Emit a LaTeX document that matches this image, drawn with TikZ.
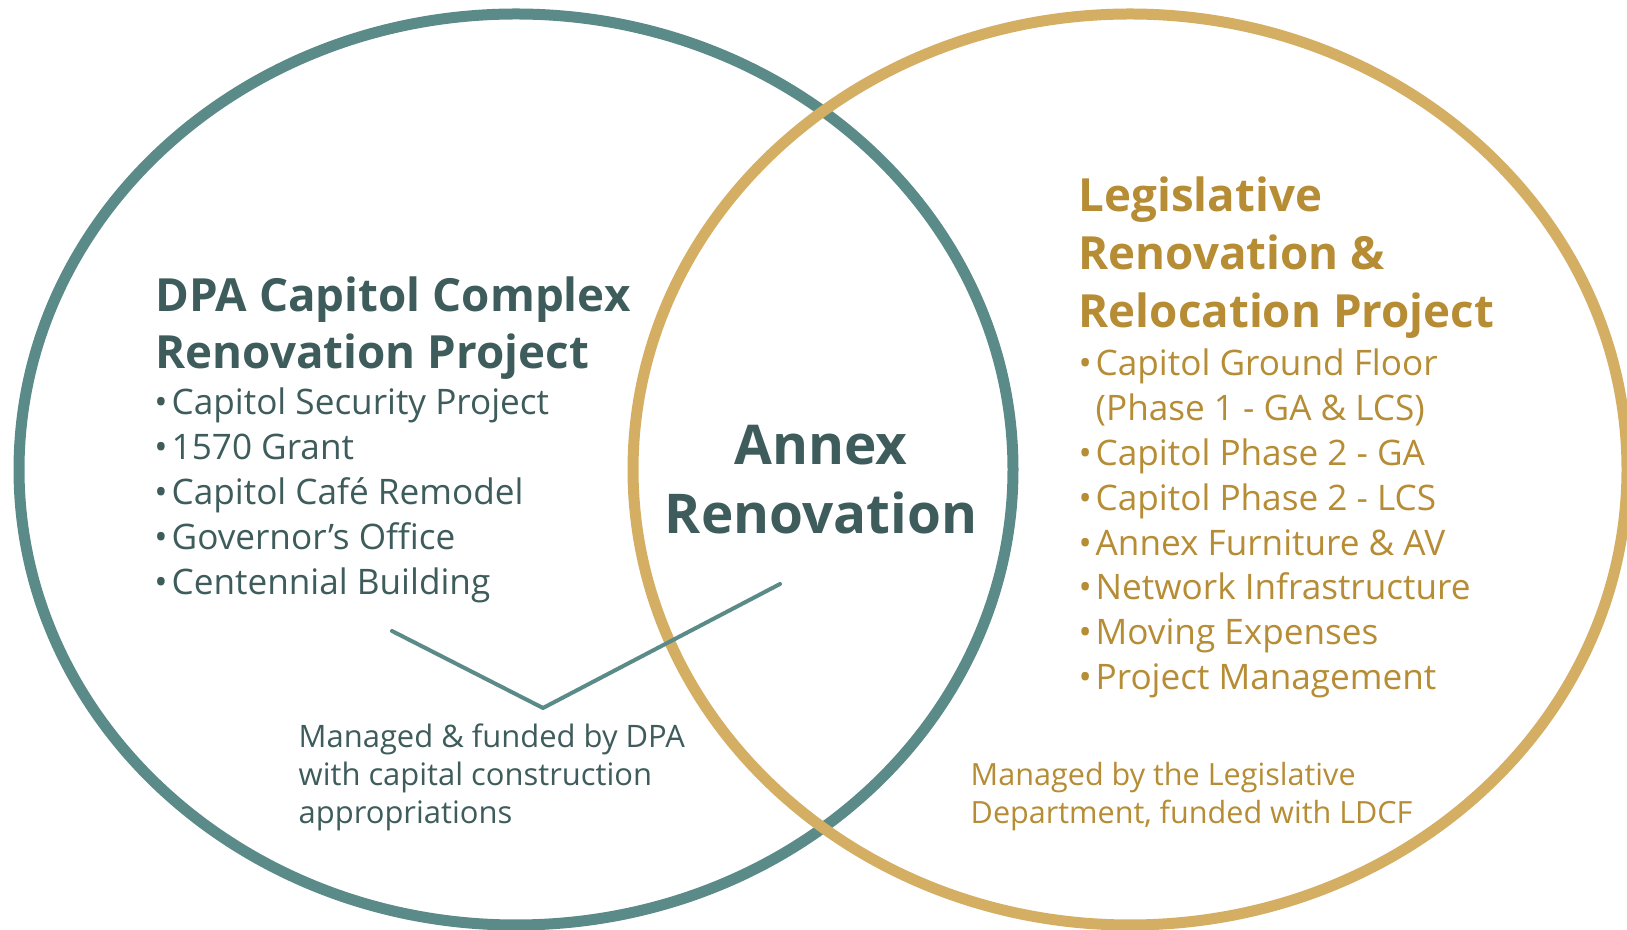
\documentclass[tikz,border=0pt]{standalone}
\usepackage{fontspec}
\setmainfont{Open Sans}
\usepackage{xcolor}
\definecolor{DpaTeal}{HTML}{5B8B88}
\definecolor{DpaDark}{HTML}{3D5C5B}
\definecolor{LegGold}{HTML}{D4AF63}
\definecolor{LegDark}{HTML}{B68C34}
\usetikzlibrary{shapes.geometric, positioning}

\begin{document}
\begin{tikzpicture}[
  x=0.1mm, y=-0.1mm,
  % Grundstile
  ring/.style={
    draw=#1,
    line width=1.1mm,
    ellipse,
    minimum width=99.4mm,
    minimum height=91.1mm,
    inner sep=0pt
  },
  heading/.style={
    font=\bfseries\fontsize{13}{15}\selectfont,
    color=#1,
    anchor=base west,
    inner sep=0pt
  },
  item/.style={
    font=\fontsize{10}{12}\selectfont,
    color=#1,
    anchor=base west,
    inner sep=0pt
  },
  bullet/.style={
    item=#1,
    execute at begin node={\llap{\textbullet\hspace{0.4mm}}}
  },
  annex/.style={
    font=\bfseries\fontsize{15.6}{18}\selectfont,
    color=DpaDark,
    anchor=base,
    inner sep=0pt
  },
  note/.style={
    font=\fontsize{8.8}{10}\selectfont,
    color=#1,
    anchor=base west,
    inner sep=0pt
  },
  pointer/.style={
    draw=DpaTeal,
    line width=0.4mm,
    line cap=round
  }
]

% =============================================================================
% HINTERGRUND
% =============================================================================
\fill[white] (0,0) rectangle (1627,930);
\useasboundingbox (0,0) rectangle (1627,930);

% =============================================================================
% KREISE
% =============================================================================
\node[ring=DpaTeal] (dpaRing) at (516,469.5) {};
\node[ring=LegGold] (legRing) at (1130,469.5) {};

% =============================================================================
% LINKE SEITE: DPA
% =============================================================================
\foreach \i/\txt in {0/DPA Capitol Complex, 1/Renovation Project} {
  \node[heading=DpaDark] (dpaHead\i) at (155,312+\i*57) {\txt};
}
\foreach \i/\txt in {0/Capitol Security Project, 1/1570 Grant, 2/Capitol Café Remodel, 3/Governor’s Office, 4/Centennial Building} {
  \node[bullet=DpaDark] (dpaItem\i) at (171,415+\i*45) {\txt};
}

% Hinweis DPA
\foreach \i/\txt in {0/Managed \& funded by DPA, 1/with capital construction, 2/appropriations} {
  \node[note=DpaDark] (dpaNote\i) at (298,748+\i*37.8) {\txt};
}

% Zeiger
\coordinate (ptrLeft) at (392,631);
\coordinate (ptrTip) at (543,708);
\coordinate (ptrRight) at (780,584);
\draw[pointer] (ptrLeft) -- (ptrTip) -- (ptrRight);

% =============================================================================
% MITTE: ANNEX
% =============================================================================
\node[annex] (annexTop) at (821,465) {Annex};
\node[annex] (annexBottom) at (821,534) {Renovation};

% =============================================================================
% RECHTE SEITE: LEGISLATIVE
% =============================================================================
\foreach \i/\txt in {0/Legislative, 1/Renovation \&, 2/Relocation Project} {
  \node[heading=LegDark] (legHead\i) at (1078,212+\i*58) {\txt};
}
\foreach \i/\txt in {0/Capitol Ground Floor, 2/Capitol Phase 2 - GA, 3/Capitol Phase 2 - LCS, 4/Annex Furniture \& AV, 5/Network Infrastructure, 6/Moving Expenses, 7/Project Management} {
  \node[bullet=LegDark] (legItem\i) at (1095,376+\i*44.8) {\txt};
}
\node[item=LegDark] (legItem1) at (1095,376+44.8) {(Phase 1 - GA \& LCS)};

% Hinweis Legislative
\foreach \i/\txt in {0/Managed by the Legislative, {1/Department, funded with LDCF}} {
  \node[note=LegDark, font=\fontsize{8.7}{10}\selectfont] (legNote\i) at (970,786+\i*37.5) {\txt};
}

\end{tikzpicture}
\end{document}
